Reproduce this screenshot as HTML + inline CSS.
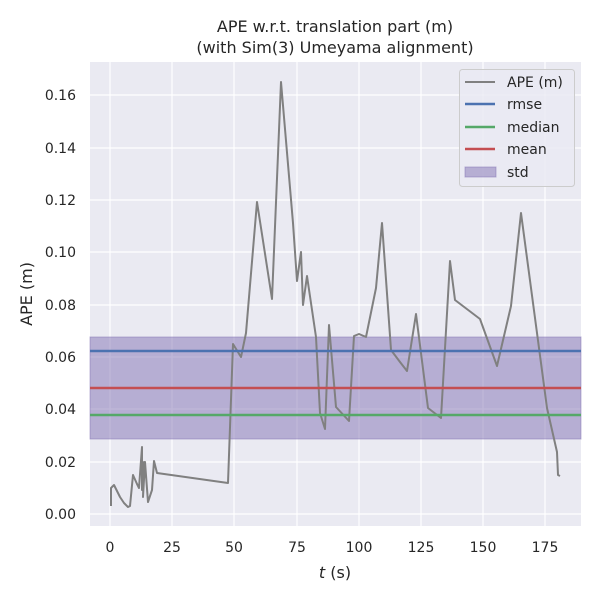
<!DOCTYPE html>
<html><head><style>body{margin:0;background:#fff}svg{display:block;font-family:"DejaVu Sans","Liberation Sans",sans-serif}</style></head><body>
<svg width="600" height="600" viewBox="0 0 600 600">
<rect x="0" y="0" width="600" height="600" fill="#fff"/>
<rect x="90" y="62" width="491" height="464" fill="#eaeaf2"/>
<g stroke="#fff" stroke-width="1.2">
<line x1="110" y1="62" x2="110" y2="526"/><line x1="172" y1="62" x2="172" y2="526"/><line x1="234" y1="62" x2="234" y2="526"/><line x1="297" y1="62" x2="297" y2="526"/><line x1="359" y1="62" x2="359" y2="526"/><line x1="421" y1="62" x2="421" y2="526"/><line x1="483" y1="62" x2="483" y2="526"/><line x1="545" y1="62" x2="545" y2="526"/>
<line x1="90" y1="514" x2="581" y2="514"/><line x1="90" y1="462" x2="581" y2="462"/><line x1="90" y1="409" x2="581" y2="409"/><line x1="90" y1="357" x2="581" y2="357"/><line x1="90" y1="305" x2="581" y2="305"/><line x1="90" y1="252" x2="581" y2="252"/><line x1="90" y1="200" x2="581" y2="200"/><line x1="90" y1="148" x2="581" y2="148"/><line x1="90" y1="95" x2="581" y2="95"/>
</g>
<rect x="90" y="337" width="491" height="102" fill="#8172b3" fill-opacity="0.5" stroke="#8172b3" stroke-opacity="0.5"/>
<polyline fill="none" stroke="#808080" stroke-width="2" stroke-linejoin="round" points="111,506 111,488 114,485 120,497 124,503 128,507 130,506 133,475 137,484 139,488 142,447 142,490 144,462 143,497 145,462 148,502 152,490 154,461 157,473 228,483 233,344 241,357 246,333 257,202 272,299 281,82 293,223 297,281 301,252 303,305 307,276 316,337 320,413 325,429 329,325 336,407 349,421 354,336 359,334 366,337 376,288 382,223 391,350 400,362 407,371 416,314 428,408 441,418 450,261 455,300 480,319 497,366 511,306 521,213 547,408 557,452 558,475 560,476"/>
<line x1="90" y1="351" x2="581" y2="351" stroke="#4c72b0" stroke-width="2.5"/>
<line x1="90" y1="388" x2="581" y2="388" stroke="#c44e52" stroke-width="2.5"/>
<line x1="90" y1="415" x2="581" y2="415" stroke="#55a868" stroke-width="2.5"/>
<g font-size="14" fill="#262626" text-anchor="end">
<text x="76" y="519">0.00</text><text x="76" y="467">0.02</text><text x="76" y="414">0.04</text><text x="76" y="362">0.06</text><text x="76" y="310">0.08</text><text x="76" y="257">0.10</text><text x="76" y="205">0.12</text><text x="76" y="153">0.14</text><text x="76" y="100">0.16</text>
</g>
<g font-size="14" fill="#262626" text-anchor="middle">
<text x="110" y="552">0</text><text x="172" y="552">25</text><text x="234" y="552">50</text><text x="297" y="552">75</text><text x="359" y="552">100</text><text x="421" y="552">125</text><text x="483" y="552">150</text><text x="545" y="552">175</text>
<text x="335" y="578" font-size="16"><tspan font-style="italic">t</tspan> (s)</text>
<text x="335" y="32" font-size="16">APE w.r.t. translation part (m)</text>
<text x="335" y="53" font-size="16">(with Sim(3) Umeyama alignment)</text>
<text transform="translate(32,294) rotate(-90)" font-size="16">APE (m)</text>
</g>
<rect x="459.5" y="69.5" width="115" height="117" rx="3" fill="#eaeaf2" fill-opacity="0.8" stroke="#ccc"/>
<g stroke-width="2.5"><line x1="465" y1="82" x2="495" y2="82" stroke="#808080" stroke-width="2"/><line x1="465" y1="104" x2="495" y2="104" stroke="#4c72b0"/><line x1="465" y1="127" x2="495" y2="127" stroke="#55a868"/><line x1="465" y1="149" x2="495" y2="149" stroke="#c44e52"/></g>
<rect x="465" y="167" width="31" height="10" fill="#8172b3" fill-opacity="0.5" stroke="#8172b3" stroke-opacity="0.5"/>
<g font-size="14" fill="#262626">
<text x="507" y="87">APE (m)</text><text x="507" y="109">rmse</text><text x="507" y="132">median</text><text x="507" y="154">mean</text><text x="507" y="177">std</text>
</g>
</svg>
</body></html>
